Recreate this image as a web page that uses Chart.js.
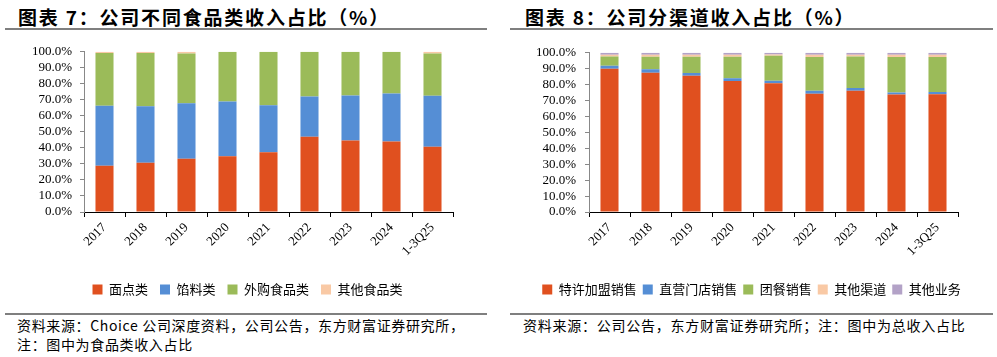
<!DOCTYPE html>
<html><head><meta charset="utf-8">
<script src="https://cdn.jsdelivr.net/npm/chart.js@4"></script>
<style>
body{margin:0;width:997px;height:357px;background:#fff;position:relative;overflow:hidden;font-family:"Noto Sans CJK SC",sans-serif;}
.title{position:absolute;top:3px;font-size:19px;font-weight:bold;letter-spacing:1.8px;color:#000;white-space:nowrap;line-height:28px}
.rule{position:absolute;height:2px;background:#7f7f7f}
.note{position:absolute;font-size:14px;line-height:19px;color:#000;white-space:nowrap;letter-spacing:0.65px}
canvas{position:absolute}
</style></head><body>
<div class="title" style="left:18px">图表 7：公司不同食品类收入占比（%）</div>
<div class="title" style="left:525px">图表 8：公司分渠道收入占比（%）</div>
<div class="rule" style="left:5px;width:482px;top:28px"></div>
<div class="rule" style="left:510px;width:483px;top:28px"></div>
<canvas id="c1" width="495" height="272" style="left:0;top:36px"></canvas>
<canvas id="c2" width="497" height="272" style="left:500px;top:36px"></canvas>
<div class="rule" style="left:5px;width:482px;top:313px"></div>
<div class="rule" style="left:510px;width:483px;top:313px"></div>
<div class="note" style="left:17px;top:316px">资料来源：Choice 公司深度资料，公司公告，东方财富证券研究所，<br>注：图中为食品类收入占比</div>
<div class="note" style="left:523px;top:316px;letter-spacing:0.75px">资料来源：公司公告，东方财富证券研究所；注：图中为总收入占比</div>
<script>
// categories
const categories = ['2017','2018','2019','2020','2021','2022','2023','2024','1-3Q25'];
// chart 7: food category shares (%)
const mianDian   = [28.8, 30.8, 33.3, 34.8, 37.3, 46.9, 44.6, 44.0, 40.8];
const xianLiao   = [37.6, 35.2, 34.6, 34.2, 29.4, 25.2, 28.1, 30.0, 31.7];
const waiGou     = [32.8, 33.2, 31.0, 31.0, 33.3, 27.9, 27.3, 26.0, 26.4];
const qiTaShiPin = [0.8, 0.8, 1.1, 0.0, 0.0, 0.0, 0.0, 0.0, 1.1];
// chart 8: channel shares (%)
const teXu     = [90.0, 87.5, 85.6, 82.3, 80.9, 74.2, 76.1, 73.8, 74.0];
const zhiYing  = [1.9, 2.1, 1.7, 1.7, 1.6, 1.9, 1.8, 1.2, 1.4];
const tuanCan  = [5.8, 7.9, 10.2, 13.5, 15.6, 21.2, 19.8, 22.3, 21.9];
const qiTaQuDao= [1.0, 1.2, 1.3, 1.3, 0.9, 1.5, 1.1, 1.5, 1.5];
const qiTaYeWu = [1.3, 1.3, 1.2, 1.2, 1.0, 1.2, 1.2, 1.2, 1.2];
const yTicks = [0,10,20,30,40,50,60,70,80,90,100];

const RED='#E0501F', BLUE='#558ED5', GREEN='#9BBB59', PEACH='#F9C9A5', PURPLE='#B3A2C7';

function ds(label, data, color){
  return {label, data, backgroundColor:color, borderWidth:0, barPercentage:0.44, categoryPercentage:1};
}
function makeChart(id, sets, yW, xH, pad, yPad, legPad, legL, legR){
  const legendSpan = {
    id:'legendSpan',
    afterLayout(chart){ const l=chart.legend; if(l){ l.left=legL; l.right=legR; l.width=legR-legL; } }
  };
  new Chart(document.getElementById(id), {
    type:'bar',
    data:{labels:categories, datasets:sets},
    plugins:[legendSpan],
    options:{
      responsive:false, animation:false, devicePixelRatio:1,
      layout:{padding:pad},
      plugins:{
        legend:{position:'bottom', labels:{boxWidth:10, boxHeight:10, color:'#000', padding:legPad,
          font:{family:'Noto Sans CJK SC', size:13}}},
        tooltip:{enabled:false}
      },
      scales:{
        x:{stacked:true,
          grid:{offset:true, drawOnChartArea:false, color:'#000', tickLength:5},
          border:{color:'#000', width:1},
          ticks:{color:'#000', font:{family:'Liberation Serif', size:13}, maxRotation:45, minRotation:45, padding:3, autoSkip:false},
          afterFit:s=>{s.height=xH;}},
        y:{stacked:true, min:0, max:100,
          afterBuildTicks:s=>{s.ticks=yTicks.map(v=>({value:v}));},
          ticks:{color:'#000', font:{family:'Liberation Serif', size:13}, padding:yPad, autoSkip:false, callback:v=>v.toFixed(1)+'%'},
          grid:{drawOnChartArea:false, color:'#888', tickLength:4},
          border:{color:'#888', width:1},
          afterFit:s=>{s.width=yW;}}
      }
    }
  });
}
makeChart('c1', [ds('面点类',mianDian,RED), ds('馅料类',xianLiao,BLUE), ds('外购食品类',waiGou,GREEN), ds('其他食品类',qiTaShiPin,PEACH)],
  84, 59, {left:0,right:42,top:15,bottom:2}, 8, 12, 0, 495);
makeChart('c2', [ds('特许加盟销售',teXu,RED), ds('直营门店销售',zhiYing,BLUE), ds('团餐销售',tuanCan,GREEN), ds('其他渠道',qiTaQuDao,PEACH), ds('其他业务',qiTaYeWu,PURPLE)],
  89, 65, {left:0,right:39,top:15,bottom:2}, 9, 6, 6, 497);
</script>
</body></html>
